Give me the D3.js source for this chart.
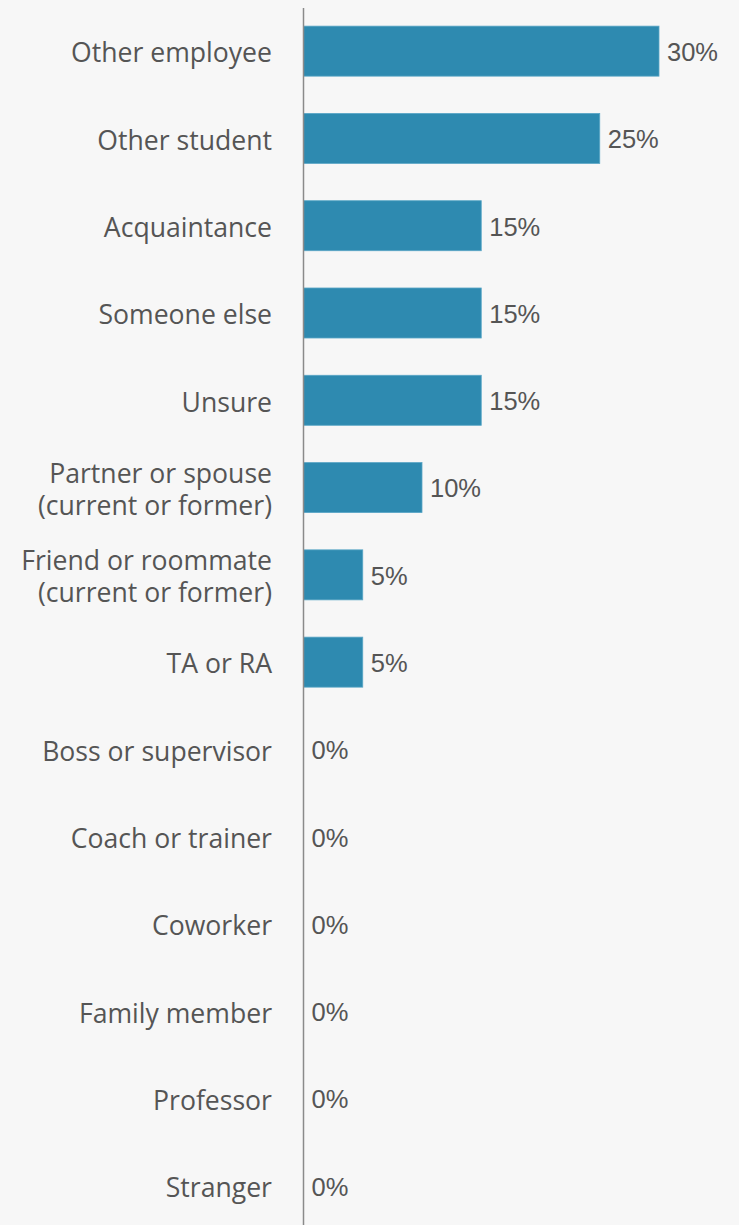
<!DOCTYPE html>
<html>
<head>
<meta charset="utf-8">
<script src="https://cdn.jsdelivr.net/npm/d3@7"></script>
<style>
  html, body { margin: 0; padding: 0; background: #f7f7f7; }
  svg { display: block; }
</style>
</head>
<body>
<svg id="chart" width="739" height="1225"></svg>
<script>
// Relationship categories (multi-line labels split on "\n")
const categories = [
  "Other employee",
  "Other student",
  "Acquaintance",
  "Someone else",
  "Unsure",
  "Partner or spouse\n(current or former)",
  "Friend or roommate\n(current or former)",
  "TA or RA",
  "Boss or supervisor",
  "Coach or trainer",
  "Coworker",
  "Family member",
  "Professor",
  "Stranger"
];
const values = [30, 25, 15, 15, 15, 10, 5, 5, 0, 0, 0, 0, 0, 0];

const W = 739, H = 1225;
const axisX = 303.5;
const svg = d3.select("#chart");

svg.append("rect").attr("width", W).attr("height", H).attr("fill", "#f7f7f7");

const x = d3.scaleLinear().domain([0, 30]).range([axisX, 659]);
const y = d3.scaleBand()
  .domain(categories)
  .range([7.5, 1229.5])
  .paddingInner(0.427)
  .paddingOuter(0.2135);

const rows = categories.map((c, i) => ({ c, v: values[i] }));

// bars
svg.append("g").selectAll("rect")
  .data(rows.filter(d => d.v > 0))
  .join("rect")
  .attr("x", x(0))
  .attr("y", d => y(d.c))
  .attr("width", d => x(d.v) - x(0))
  .attr("height", y.bandwidth())
  .attr("fill", "#2e8ab0")
  .attr("stroke", "#5aa6c6")
  .attr("stroke-width", 0.8);

// value labels
svg.append("g").selectAll("text")
  .data(rows)
  .join("text")
  .attr("x", d => x(d.v) + 8)
  .attr("y", d => y(d.c) + y.bandwidth() / 2 + 1)
  .attr("dy", "0.35em")
  .attr("font-family", "'Liberation Sans', Arial, sans-serif")
  .attr("font-size", 25.5)
  .attr("fill", "#555")
  .text(d => d.v + "%");

// category labels
const lab = svg.append("g").selectAll("text")
  .data(rows)
  .join("text")
  .attr("text-anchor", "end")
  .attr("font-family", "'Open Sans', sans-serif")
  .attr("font-size", 26.6)
  .attr("fill", "#555");

lab.each(function(d) {
  const lines = d.c.split("\n");
  const cy = y(d.c) + y.bandwidth() / 2 + 2;
  const lh = 31.5;
  const t = d3.select(this);
  lines.forEach((ln, i) => {
    t.append("tspan")
      .attr("x", 272)
      .attr("y", cy + (i - (lines.length - 1) / 2) * lh)
      .attr("dy", "0.35em")
      .text(ln);
  });
});

// vertical axis line
svg.append("line")
  .attr("x1", axisX).attr("x2", axisX)
  .attr("y1", 8).attr("y2", H)
  .attr("stroke", "#8a8a8a")
  .attr("stroke-width", 1.5);
</script>
</body>
</html>
